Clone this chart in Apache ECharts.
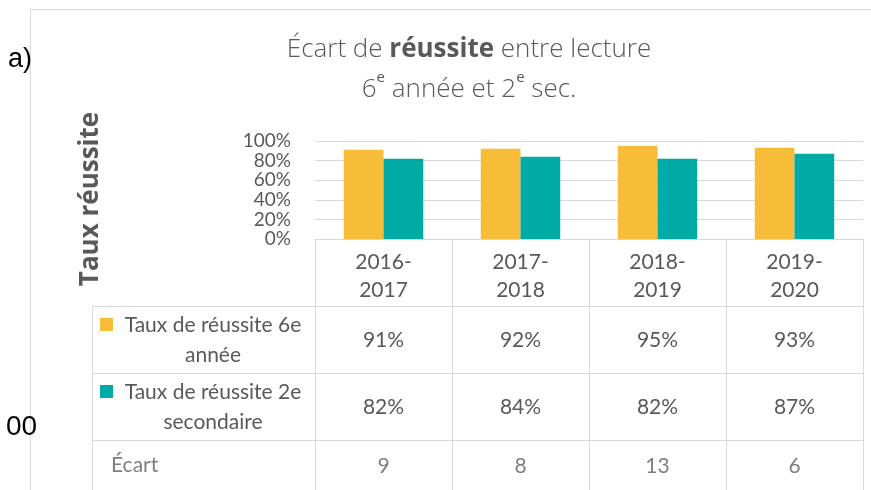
<!DOCTYPE html>
<html>
<head>
<meta charset="utf-8">
<style>
  html, body { margin: 0; padding: 0; background: #fff; }
  #chart { width: 871px; height: 490px; }
</style>
<script src="https://cdn.jsdelivr.net/npm/echarts@6/dist/echarts.min.js"></script>
</head>
<body>
<div id="chart"></div>
<script>
// données
const annees = ['2016-\n2017', '2017-\n2018', '2018-\n2019', '2019-\n2020']
const reussite6e = [91, 92, 95, 93]
const reussite2e = [82, 84, 82, 87]
const ecart = [9, 8, 13, 6]
const yTicks = [0, 20, 40, 60, 80, 100]
const nomsSeries = ['Taux de réussite 6e\nannée', 'Taux de réussite 2e\nsecondaire']

const colors = ['#F7BD39', '#00AAA5']
const gris = '#595959'
const grisClair = '#7F7F7F'
const trait = '#D9D9D9'
const police = 'Lato, "Open Sans", sans-serif'
const policeTitre = '"Open Sans", Lato, sans-serif'

const chart = echarts.init(document.getElementById('chart'))

// une ligne du tableau = un axe x décalé vers le bas
const ligneTableau = (offset, valeurs, couleur, margin, tickLen) => ({
  type: 'category',
  data: annees,
  position: 'bottom',
  offset: offset,
  axisLine: { show: true, lineStyle: { color: trait, width: 1 } },
  axisTick: { show: true, length: tickLen, lineStyle: { color: trait, width: 1 } },
  axisLabel: {
    interval: 0,
    margin: margin,
    color: couleur,
    fontSize: 21,
    lineHeight: 26,
    fontFamily: police,
    formatter: (v, i) => String(valeurs[i]),
  },
  splitLine: { show: false },
})

const gridTop = 141
const gridBottomY = 239
const leftX = 92
const tableLeft = 315

chart.setOption({
  animation: false,
  grid: { left: tableLeft, right: 8, top: gridTop, bottom: 490 - gridBottomY },
  xAxis: [
    {
      type: 'category',
      data: annees,
      position: 'bottom',
      axisLine: { show: true, lineStyle: { color: trait, width: 1 } },
      axisTick: { show: true, length: 67, lineStyle: { color: trait, width: 1 } },
      axisLabel: {
        interval: 0,
        margin: 9,
        color: gris,
        fontSize: 21,
        lineHeight: 28,
        fontFamily: police,
      },
    },
    ligneTableau(67, reussite6e.map(v => v + '%'), gris, 21, 67),
    ligneTableau(134, reussite2e.map(v => v + '%'), gris, 21, 67),
    ligneTableau(201, ecart, grisClair, 13, 60),
  ],
  yAxis: {
    type: 'value',
    min: yTicks[0],
    max: yTicks[yTicks.length - 1],
    interval: 20,
    axisLine: { show: false },
    axisTick: { show: false },
    axisLabel: {
      color: gris,
      fontSize: 19,
      margin: 24,
      fontFamily: police,
      formatter: '{value}%',
    },
    splitLine: { lineStyle: { color: trait, width: 1 } },
  },
  series: [
    {
      name: nomsSeries[0],
      type: 'bar',
      data: reussite6e,
      barGap: '0%',
      barCategoryGap: '42%',
      itemStyle: { color: colors[0] },
    },
    {
      name: nomsSeries[1],
      type: 'bar',
      data: reussite2e,
      barGap: '0%',
      barCategoryGap: '42%',
      itemStyle: { color: colors[1] },
    },
  ],
  graphic: [
    // cadre du graphique
    {
      type: 'rect',
      shape: { x: 30.5, y: 9.5, width: 900, height: 600 },
      style: { fill: 'none', stroke: trait, lineWidth: 1 },
      silent: true,
    },
    // titre sur deux lignes
    {
      type: 'text', x: 469, y: 70,
      style: {
        text: 'Écart de {b|réussite} entre lecture\n6{sup|e} année et 2{sup|e} sec.',
        align: 'center',
        verticalAlign: 'middle',
        fill: gris,
        fontSize: 26,
        fontWeight: 300,
        fontFamily: policeTitre,
        lineHeight: 40,
        rich: {
          b: { fontSize: 26, fontWeight: 'bold', fill: gris, fontFamily: policeTitre },
          sup: { fontSize: 15, fill: gris, fontFamily: policeTitre, verticalAlign: 'top', padding: [0, 0, 12, 0] },
        },
      },
    },
    // titre de l'axe vertical
    {
      type: 'text', x: 91, y: 199, rotation: Math.PI / 2,
      style: {
        text: 'Taux réussite',
        fontSize: 26,
        fontWeight: 'bold',
        fill: gris,
        fontFamily: policeTitre,
        align: 'center',
        verticalAlign: 'middle',
      },
    },
    { type: 'text', x: 8, y: 60, style: { text: 'a)', fontSize: 27, fill: '#000', fontFamily: 'Liberation Sans, Arial', verticalAlign: 'middle' } },
    { type: 'text', x: 6, y: 427, style: { text: '00', fontSize: 28, fill: '#000', fontFamily: 'Liberation Sans, Arial', verticalAlign: 'middle' } },
    // colonne de gauche du tableau
    { type: 'line', shape: { x1: leftX, y1: 306.5, x2: tableLeft, y2: 306.5 }, style: { stroke: trait, lineWidth: 1 } },
    { type: 'line', shape: { x1: leftX, y1: 373.5, x2: tableLeft, y2: 373.5 }, style: { stroke: trait, lineWidth: 1 } },
    { type: 'line', shape: { x1: leftX, y1: 440.5, x2: tableLeft, y2: 440.5 }, style: { stroke: trait, lineWidth: 1 } },
    { type: 'line', shape: { x1: leftX + 0.5, y1: 306, x2: leftX + 0.5, y2: 490 }, style: { stroke: trait, lineWidth: 1 } },
    // clés de légende
    { type: 'rect', shape: { x: 100, y: 318, width: 13, height: 13 }, style: { fill: colors[0] } },
    { type: 'rect', shape: { x: 100, y: 385, width: 13, height: 13 }, style: { fill: colors[1] } },
    {
      type: 'text', x: 213, y: 340,
      style: { text: nomsSeries[0], fontSize: 21, lineHeight: 30, fill: gris, fontFamily: police, align: 'center', verticalAlign: 'middle' },
    },
    {
      type: 'text', x: 213, y: 407,
      style: { text: nomsSeries[1], fontSize: 21, lineHeight: 30, fill: gris, fontFamily: police, align: 'center', verticalAlign: 'middle' },
    },
    {
      type: 'text', x: 111, y: 465,
      style: { text: 'Écart', fontSize: 21, fill: grisClair, fontFamily: police, align: 'left', verticalAlign: 'middle' },
    },
  ],
})
</script>
</body>
</html>
